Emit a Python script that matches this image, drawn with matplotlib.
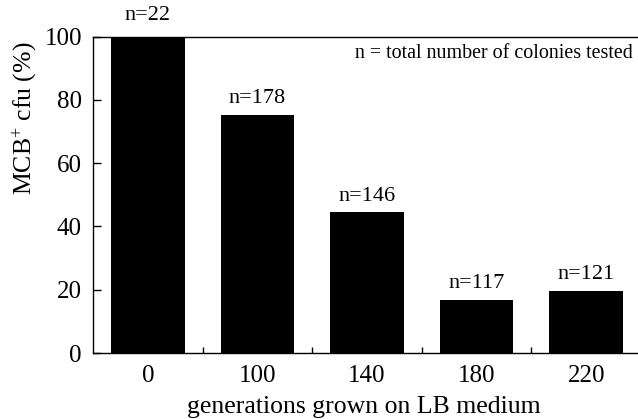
import matplotlib
matplotlib.use("Agg")
import matplotlib.pyplot as plt
from matplotlib.ticker import FixedLocator

generations = ["0", "100", "140", "180", "220"]
mcb_percent = [100, 75.3, 44.4, 16.8, 19.6]
n_tested = [22, 178, 146, 117, 121]

plt.rcParams["font.family"] = ["Liberation Serif", "DejaVu Serif"]
plt.rcParams["mathtext.fontset"] = "custom"
plt.rcParams["mathtext.rm"] = "Liberation Serif"
plt.rcParams["mathtext.it"] = "Liberation Serif:italic"

W, H = 638, 419
fig = plt.figure(figsize=(W / 100, H / 100), dpi=100)
# axes: left spine x=93, bottom y=353, top y=36.5 (pixels)
ax = fig.add_axes([93 / W, 1 - 353 / H, 548 / W, 316.5 / H])

pos = list(range(len(generations)))
ax.bar(pos, mcb_percent, width=0.67, color="black")

for x, v, n in zip(pos, mcb_percent, n_tested):
    off = 8 if v >= 100 else 5
    ax.annotate(f"n={n}", (x, v), xytext=(0, off), textcoords="offset points",
                ha="center", va="bottom", fontsize=16)

ax.set_xlim(-0.5, 4.5)
ax.set_ylim(0, 100)
ax.set_yticks([0, 20, 40, 60, 80, 100])
ax.set_xticks(pos)
ax.set_xticklabels(generations)
ax.xaxis.set_minor_locator(FixedLocator([0.5, 1.5, 2.5, 3.5]))
ax.tick_params(axis="x", which="major", length=0, pad=9, labelsize=18)
ax.tick_params(axis="x", which="minor", direction="in", length=4, width=1)
ax.tick_params(axis="y", direction="in", length=6, width=1, pad=8, labelsize=18)

for s in ["left", "bottom", "top"]:
    ax.spines[s].set_linewidth(1.0)
ax.spines["right"].set_visible(False)

fig.text(25 / W, 1 - 118 / H, "MCB$^{+}$ cfu (%)", rotation=90,
         ha="center", va="center", fontsize=18.5)
fig.text(364 / W, 1 - 407 / H, "generations grown on LB medium",
         ha="center", va="center", fontsize=18.5)

ax.text(633 / W * W / 548 - 93 / 548, (353 - 53) / 316.5,
        "n = total number of colonies tested", transform=ax.transAxes,
        ha="right", va="center", fontsize=14.4)

fig.savefig("out.png", dpi=100)
